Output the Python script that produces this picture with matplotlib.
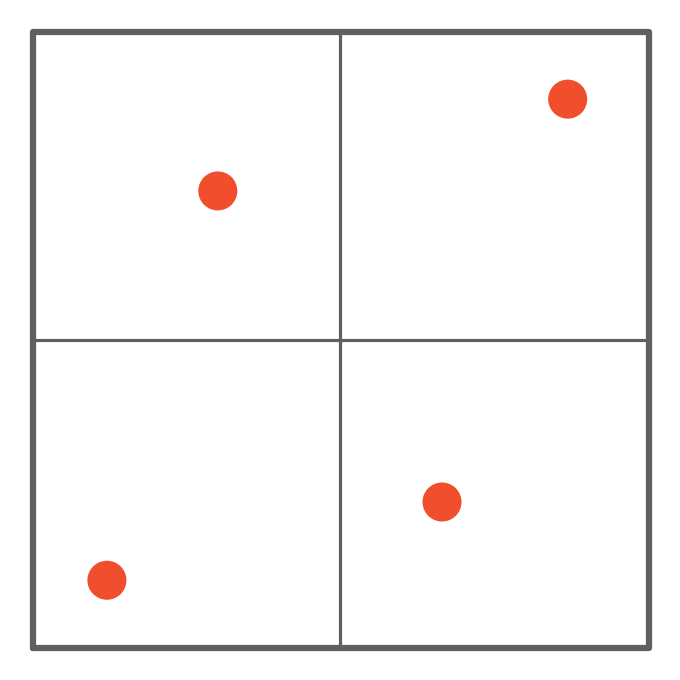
import matplotlib
matplotlib.use("Agg")
import matplotlib.pyplot as plt

# point positions (unit square, origin bottom-left)
xs = [0.30, 0.868, 0.664, 0.12]
ys = [0.742, 0.891, 0.237, 0.110]

# quadrant split
x_mid = 0.498
y_mid = 0.5

fig = plt.figure(figsize=(6.8, 6.8), dpi=100)
ax = fig.add_axes([33 / 680, 32 / 680, 616 / 680, 616 / 680])
ax.set_xlim(0, 1)
ax.set_ylim(0, 1)
ax.axis("off")

gray = "#5f5f5f"
# outer frame
ax.plot([0, 1, 1, 0, 0], [0, 0, 1, 1, 0], color=gray, lw=4.5,
        solid_joinstyle="round", solid_capstyle="round", clip_on=False)
# quadrant lines
ax.plot([x_mid, x_mid], [0, 1], color=gray, lw=2.3, clip_on=False)
ax.plot([0, 1], [y_mid, y_mid], color=gray, lw=2.3, clip_on=False)

ax.scatter(xs, ys, s=790, color="#f04e2c", edgecolors="none", zorder=3)

fig.savefig("out.png", dpi=100)
